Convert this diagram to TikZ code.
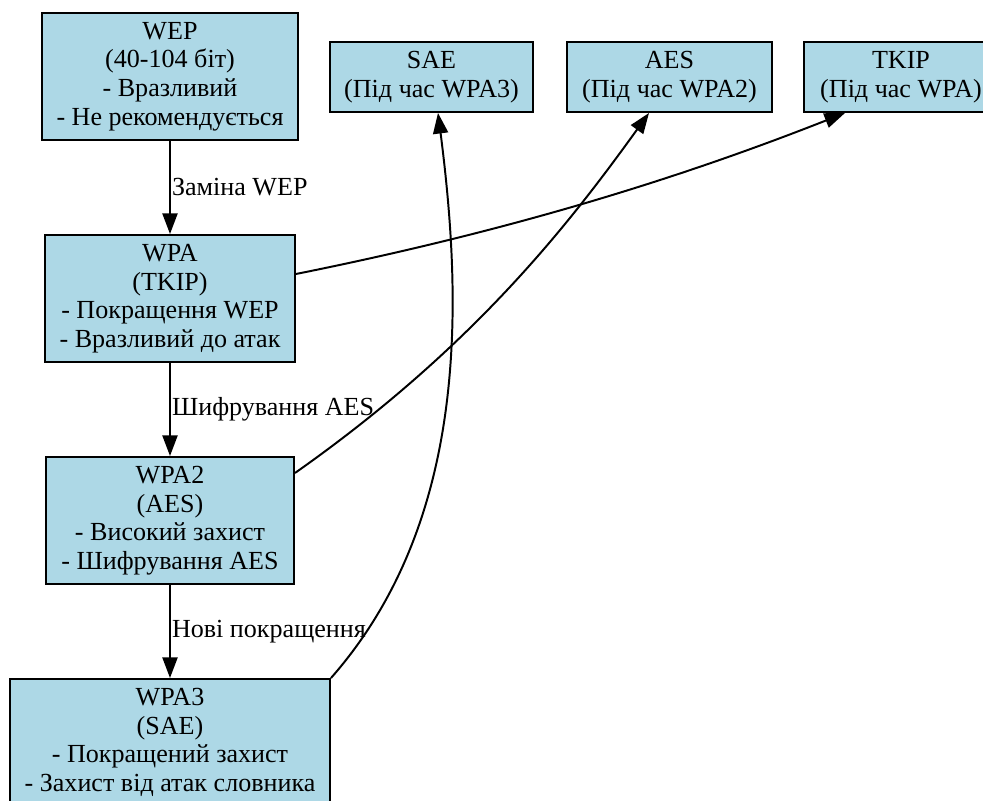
\documentclass[tikz,border=0pt]{standalone}
\usepackage{fontspec}
\setmainfont{Liberation Serif}
\newfontfamily\boxserif{Liberation Serif}
\usetikzlibrary{arrows.meta,calc}
\definecolor{boxblue}{RGB}{173,216,230}
\newcommand\pxu{0.56pt}
\begin{document}
\begin{tikzpicture}[x=0.56pt,y=-0.56pt,
  box/.style={draw=black, line width=1.1pt, fill=boxblue, align=center,
    font=\boxserif\fontsize{14.6pt}{16pt}\selectfont, inner sep=0pt},
  link/.style={line width=1.1pt, -{Triangle[length=11.5pt,width=8.4pt]}},
  lbl/.style={font=\boxserif\fontsize{14.6pt}{16pt}\selectfont, anchor=west,
    inner xsep=0.6pt, inner ysep=0pt}]
\clip (0,0) rectangle (983,801);

% protocol chain
\node[box, minimum width=256*\pxu, minimum height=127*\pxu] (wep) at (170,76.5)
  {WEP\\(40-104 біт)\\- Вразливий\\- Не рекомендується};
\node[box, minimum width=250*\pxu, minimum height=127*\pxu] (wpa) at (170,298.5)
  {WPA\\(TKIP)\\- Покращення WEP\\- Вразливий до атак};
\node[box, minimum width=248*\pxu, minimum height=127*\pxu] (wpa2) at (170,520.5)
  {WPA2\\(AES)\\- Високий захист\\- Шифрування AES};
\node[box, minimum width=320*\pxu, minimum height=127*\pxu] (wpa3) at (170,742.5)
  {WPA3\\(SAE)\\- Покращений захист\\- Захист від атак словника};

% encryption methods
\node[box, minimum width=203*\pxu, minimum height=70*\pxu] (sae) at (431.5,77)
  {SAE\\(Під час WPA3)};
\node[box, minimum width=205*\pxu, minimum height=70*\pxu] (aes) at (669.5,77)
  {AES\\(Під час WPA2)};
\node[box, minimum width=194*\pxu, minimum height=70*\pxu] (tkip) at (901,77)
  {TKIP\\(Під час WPA)};

% succession
\draw[link] (wep) -- node[lbl] {Заміна WEP} (wpa);
\draw[link] (wpa) -- node[lbl] {Шифрування AES} (wpa2);
\draw[link] (wpa2) -- node[lbl] {Нові покращення} (wpa3);

% protocol to method
\draw[link] ($(wpa.east)+(0,-24.5)$)
  .. controls (495,234) and (665,184) .. ($(tkip.south)+(-56,0)$);
\draw[link] ($(wpa2.east)+(0,-47.5)$)
  .. controls (474,347) and (569,224) .. ($(aes.south)+(-20.5,0)$);
\draw[link] (wpa3.north east)
  .. controls (470,520) and (462,300) .. ($(sae.south)+(6.5,0)$);
\end{tikzpicture}
\end{document}
